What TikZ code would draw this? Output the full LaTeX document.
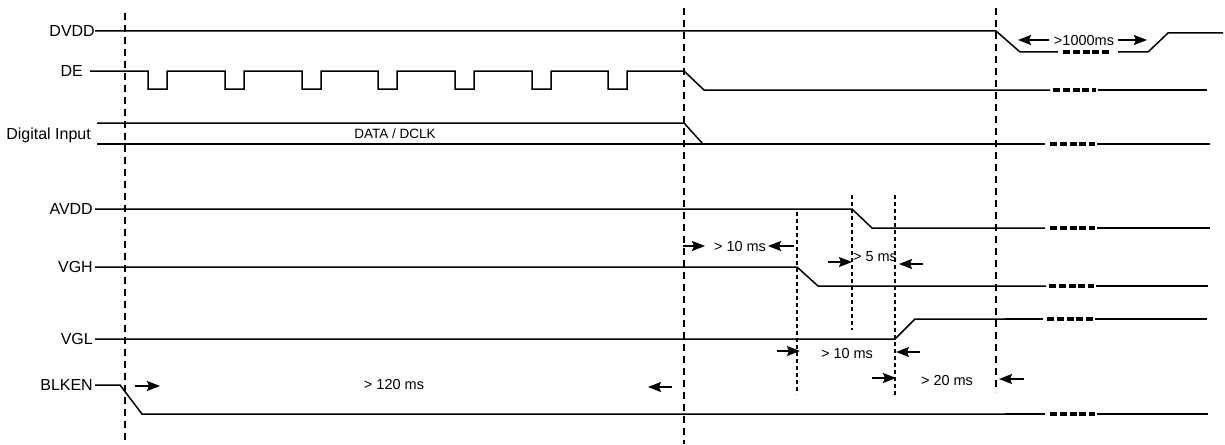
\documentclass[tikz,border=0pt]{standalone}
\usepackage{fontspec}
\setmainfont{Liberation Sans}
\usetikzlibrary{arrows.meta}
\begin{document}
\begin{tikzpicture}[x=1pt,y=-1pt,
  sig/.style={line width=1.5pt},
  thinsig/.style={line width=1.1pt},
  vdash/.style={line width=1.8pt, dash pattern=on 7pt off 5pt},
  vdot/.style={line width=1.4pt, dash pattern=on 4pt off 3pt},
  brk/.style={line width=4pt, dash pattern=on 7pt off 2.8pt},
  lbl/.style={font=\fontsize{16}{18}\selectfont, inner sep=0pt, anchor=east, text height=11.5pt, text depth=0pt},
  tlbl/.style={font=\fontsize{14.5}{16}\selectfont, inner sep=0pt, text height=10.4pt, text depth=0pt},
  arr/.style={-{Stealth[length=13pt,width=10pt,inset=2pt]}, line width=1.6pt}
]
\useasboundingbox (0,0) rectangle (1225,444);
\fill[white] (0,0) rectangle (1225,444);

% vertical reference lines
\draw[vdash] (125,13) -- (125,444);
\draw[vdash] (684,8) -- (684,444);
\draw[vdash] (996,8) -- (996,392);
\draw[vdot] (797,212) -- (797,394);
\draw[vdot] (852,195) -- (852,330);
\draw[vdot] (895,195) -- (895,397);

% labels
\node[lbl] (dvdd) at (95,31) {DVDD};
\node[lbl] (de) at (83,71) {DE};
\node[lbl] (din) at (91,134) {Digital Input};
\node[lbl] (avdd) at (93,209) {AVDD};
\node[lbl] (vgh) at (93,267) {VGH};
\node[lbl] (vgl) at (93,339) {VGL};
\node[lbl] (blken) at (93,385) {BLKEN};

% DVDD
\draw[sig] (dvdd.east) -- (996,31) -- (1020,52) -- (1058,52);
\draw[brk] (1063,52) -- (1110,52);
\draw[sig] (1118,52) -- (1148,52) -- (1168,33) -- (1223,33);

% DE
\draw[sig] (90,71) foreach \p in {148,225,302,378,455,532,608}{ -- (\p,71) -- (\p,89) -- (\p+19,89) -- (\p+19,71)} -- (684,71) -- (704,90) -- (1050,90);
\draw[brk] (1053,90) -- (1096,90);
\draw[sig] (1098,90) -- (1207,90);

% Digital input
\draw[sig] (97,123) -- (684,123) -- (703,144);
\draw[sig] (97,144) -- (1045,144);
\draw[brk] (1050,144) -- (1095,144);
\draw[sig] (1097,144) -- (1210,144);
\node[font=\fontsize{13.5}{15}\selectfont, inner sep=0pt, text height=9.7pt, text depth=0pt] (data) at (395,134) {DATA / DCLK};

% AVDD
\draw[sig] (95,209) -- (852,209) -- (872,228) -- (1045,228);
\draw[brk] (1050,228) -- (1095,228);
\draw[sig] (1097,228) -- (1210,228);

% VGH
\draw[sig] (95,267) -- (797,267) -- (818,286) -- (1046,286);
\draw[brk] (1049,286) -- (1094,286);
\draw[sig] (1096,286) -- (1208,286);

% VGL
\draw[sig] (95,339) -- (895,339) -- (915,319) -- (1005,319);
\draw[thinsig] (1005,319) -- (1043,319);
\draw[brk] (1047,319) -- (1093,319);
\draw[sig] (1095,319) -- (1207,319);

% BLKEN
\draw[sig] (95,385) -- (120,385) -- (142,414) -- (1005,414);
\draw[thinsig] (1005,414) -- (1045,414);
\draw[brk] (1050,414) -- (1095,414);
\draw[sig] (1097,414) -- (1208,414);

% timing annotations
\node[tlbl] (t1000) at (1084,40) {>1000ms};
\draw[arr] (1049,40) -- (1018,40);
\draw[arr] (1118,40) -- (1147,40);

\node[tlbl] (t120) at (394,384) {> 120 ms};
\draw[arr] (135,386) -- (160,386);
\draw[arr] (672,387) -- (648,387);

\node[tlbl] (t10a) at (740,246) {> 10 ms};
\draw[arr] (683,246) -- (705,246);
\draw[arr] (794,246) -- (768,246);

\node[tlbl] (t5) at (875,256) {> 5 ms};
\draw[arr] (828,262) -- (852,262);
\draw[arr] (923,264) -- (899,264);

\node[tlbl] (t10b) at (847,353) {> 10 ms};
\draw[arr] (777,351) -- (800,351);
\draw[arr] (920,352) -- (896,352);

\node[tlbl] (t20) at (947,380) {> 20 ms};
\draw[arr] (872,378) -- (896,378);
\draw[arr] (1024,379) -- (999,379);
\end{tikzpicture}
\end{document}
